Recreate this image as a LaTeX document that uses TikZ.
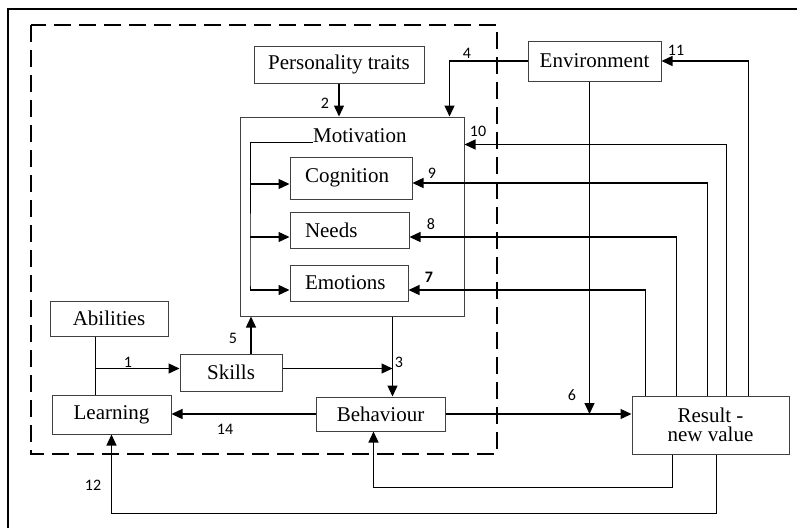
\documentclass[tikz,border=0pt]{standalone}
\usepackage{fontspec}
\setmainfont{Liberation Serif}
\newfontfamily\numfont{Carlito}
\usetikzlibrary{
  positioning, calc,
  arrows.meta
}

\tikzset{
  box/.style={draw=black!75, line width=1pt, inner sep=0pt,
    font=\fontsize{21}{21}\selectfont},
  inbox/.style={box, align=left, inner xsep=15pt},
  arr/.style={-{Triangle[length=11pt,width=10pt]}, line width=1.3pt},
  num/.style={font=\numfont\fontsize{16}{16}\selectfont},
}

\begin{document}
\begin{tikzpicture}[x=1pt,y=-1pt]
      \useasboundingbox (0,0) rectangle (797,528);
      \draw[line width=2pt] (8,528) -- (8,9) -- (797,9); % outer frame
      \draw[line width=2.5pt, dash pattern=on 17pt off 8pt] (31,25) rectangle (497,454);

      % boxes
      \node[box, minimum width=170pt, minimum height=37pt] (traits) at (339,64.5) {Personality traits};
      \node[box, minimum width=133pt, minimum height=40pt] (env) at (594.5,61) {Environment};
      \node[box, minimum width=224pt, minimum height=199pt] (mot) at (352,216.5) {};
      \node[font=\fontsize{21}{21}\selectfont, inner sep=0pt, anchor=base west] (motlab) at (313,142) {Motivation};
      \node[inbox, text width=92pt, minimum height=42pt] (cog) at (351,178) {Cognition};
      \node[inbox, text width=89pt, minimum height=36pt] (needs) at (349.5,230) {Needs};
      \node[inbox, text width=88pt, minimum height=36pt] (emo) at (349,283) {Emotions};
      \node[box, minimum width=118pt, minimum height=35pt] (abil) at (109,318.5) {Abilities};
      \node[box, minimum width=119pt, minimum height=39pt] (learn) at (111.5,414.5) {Learning};
      \node[box, minimum width=102pt, minimum height=37pt] (skills) at (231,372.5) {Skills};
      \node[box, minimum width=129pt, minimum height=34pt] (behav) at (380.5,414) {Behaviour};
      \node[box, minimum width=157pt, minimum height=58pt, align=center,
        font=\fontsize{21}{19}\selectfont] (result) at (710.5,425) {Result -\\new value};

      % helper points
      \coordinate (br) at ($(motlab.base west)+(-63,0)$);
      \coordinate (ab) at ($(abil.south west)+(46,0)$);
      \coordinate (s1) at ($(skills.west)+(0,-4)$);
      \coordinate (s3) at ($(skills.east)+(0,-4)$);
      \coordinate (s5) at ($(skills.north)+(20,0)$);
      \coordinate (m3) at ($(mot.south west)+(153,0)$);
      \coordinate (m4) at ($(mot.north west)+(210,0)$);
      \coordinate (e6) at ($(env.south)+(-5,0)$);

      % motivation bracket
      \draw[line width=1pt] (motlab.base west) -- (br) -- (br |- emo.east) -- ++(0,7);
      \draw[arr] (br |- 0,184) -- ($(cog.west)+(0,6)$);
      \draw[arr] (br |- 0,237) -- ($(needs.west)+(0,7)$);
      \draw[arr] (br |- 0,290) -- ($(emo.west)+(0,7)$);

      % connectors
      \draw[arr] (traits) -- (traits |- mot.north);
      \draw[arr] (env.west) -| (m4);
      \draw[line width=1.3pt] (ab) -- (ab |- learn.north);
      \draw[arr] (ab |- s1) -- (s1);
      \draw[arr] (s5) -- (s5 |- mot.south);
      \draw[arr] (s3) -- (m3 |- s3);
      \draw[arr] (m3) -- (m3 |- behav.north);
      \draw[arr] (behav.west) -- (learn.east |- behav.west);
      \draw[arr] (behav.east) -- (result.west |- behav.east);
      \draw[arr] (e6) -- (e6 |- behav.east);

      % feedback from result
      \draw[arr] ($(result.north west)+(14,0)$) |- ($(emo.east)+(0,7)$);
      \draw[arr] ($(result.north west)+(45,0)$) |- ($(needs.east)+(0,7)$);
      \draw[arr] ($(result.north west)+(76,0)$) |- ($(cog.east)+(0,5)$);
      \draw[arr] ($(result.north west)+(95,0)$) |- ($(mot.north east)+(0,28)$);
      \draw[arr] ($(result.north west)+(117,0)$) |- (env.east);
      \draw[arr] ($(result.south west)+(41,0)$) -- ++(0,33) -| ($(behav.south)+(-7,0)$);
      \draw[arr] ($(result.south west)+(85,0)$) -- ++(0,59) -| (learn.south);

      % numbers
      \node[num] (n1) at (128,362) {1};
      \node[num] (n2) at (325,103) {2};
      \node[num] (n3) at (399,362) {3};
      \node[num] (n4) at (467,53) {4};
      \node[num] (n5) at (233,338) {5};
      \node[num] (n6) at (572,395) {6};
      \node[num, font=\numfont\bfseries\fontsize{16}{16}\selectfont] (n7) at (429,277) {7};
      \node[num] (n8) at (431,224) {8};
      \node[num] (n9) at (432,173) {9};
      \node[num] (n10) at (478,131) {10};
      \node[num] (n11) at (676,50) {11};
      \node[num] (n12) at (93,485) {12};
      \node[num] (n14) at (225,429) {14};
\end{tikzpicture}
\end{document}
